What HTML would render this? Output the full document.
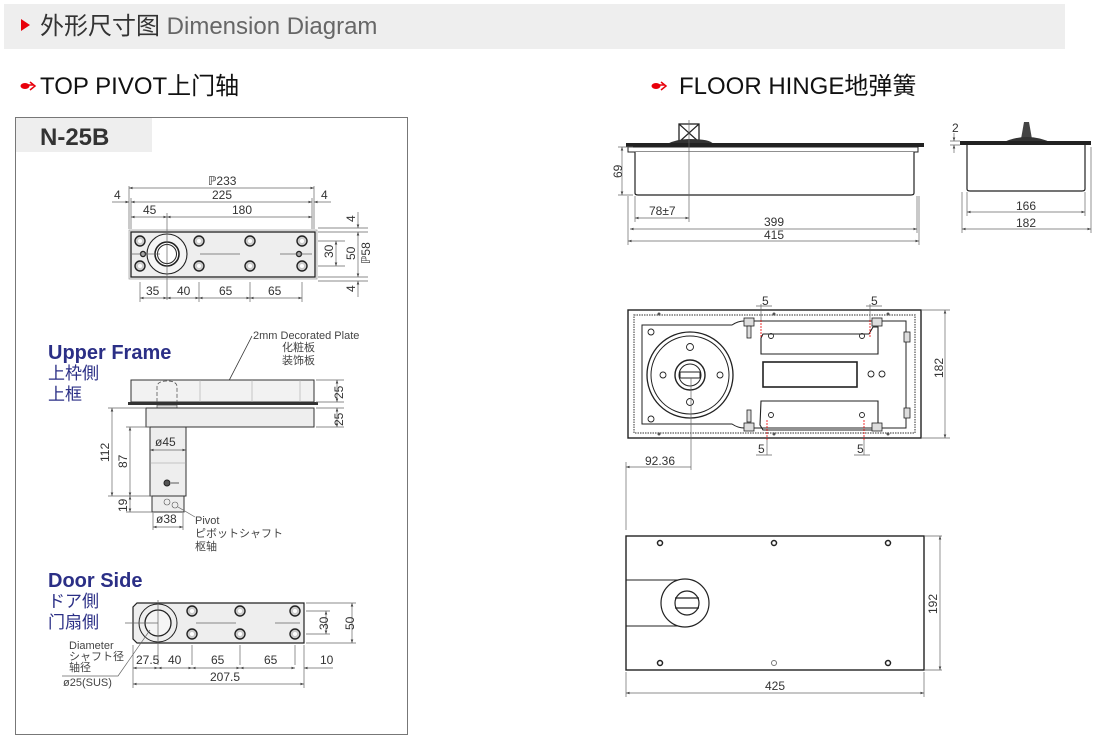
<!DOCTYPE html>
<html><head><meta charset="utf-8"><style>
html,body{margin:0;padding:0;background:#fff;}
svg{display:block;font-family:"Liberation Sans","Noto Sans CJK SC",sans-serif;}
.d{stroke:#666;stroke-width:0.7;fill:none}
.k{stroke:#222;stroke-width:1.2;fill:none}
.t{font-size:12px;fill:#333}
.s{font-size:11px;fill:#444}
</style></head><body>
<svg width="1098" height="744" viewBox="0 0 1098 744" xmlns="http://www.w3.org/2000/svg">
<defs>
<marker id="a" viewBox="0 0 6 6" refX="6" refY="3" markerWidth="5" markerHeight="5" orient="auto-start-reverse"><path d="M0,0.8L6,3L0,5.2z" fill="#444"/></marker>
</defs>
<!-- header -->
<rect x="4" y="4" width="1061" height="45" fill="#eeeeee"/>
<path d="M21,19L30,25L21,31z" fill="#e8000b"/>
<text x="40" y="34" font-size="24" fill="#333">外形尺寸图 <tspan fill="#666">Dimension Diagram</tspan></text>
<!-- section titles -->
<g fill="#e8000b"><ellipse cx="25" cy="86" rx="4.5" ry="3"/><path d="M28,85h6M30,82l5,4l-5,4" stroke="#e8000b" stroke-width="1.5" fill="none"/></g>
<text x="40" y="94" font-size="24" fill="#111">TOP PIVOT上门轴</text>
<g fill="#e8000b"><ellipse cx="656" cy="86" rx="4.5" ry="3"/><path d="M659,85h6M661,82l5,4l-5,4" stroke="#e8000b" stroke-width="1.5" fill="none"/></g>
<text x="679" y="94" font-size="24" fill="#111">FLOOR HINGE地弹簧</text>

<!-- N-25B box -->
<rect x="15.5" y="117.5" width="392" height="617" fill="none" stroke="#777" stroke-width="1"/>
<rect x="16" y="118" width="136" height="34" fill="#eeeeee"/>
<text x="40" y="145" font-size="24" font-weight="bold" fill="#333">N-25B</text>

<!-- top pivot plan -->
<rect x="129" y="230" width="188" height="49" fill="#f2f2f2" stroke="#999" stroke-width="0.7"/>
<rect x="131" y="232" width="184" height="45" fill="#eee" stroke="#222" stroke-width="1.3"/>
<circle cx="167" cy="254" r="20" fill="#f5f5f5" stroke="#222" stroke-width="1.1"/>
<circle cx="167" cy="254" r="12" fill="#fff" stroke="#222" stroke-width="1.6"/>
<circle cx="167" cy="254" r="9.5" fill="none" stroke="#222" stroke-width="1"/>
<g fill="#ccc" stroke="#222" stroke-width="1.4">
<circle cx="140" cy="241" r="5"/><circle cx="140" cy="266" r="5"/>
<circle cx="199" cy="241" r="5"/><circle cx="199" cy="266" r="5"/>
<circle cx="250" cy="241" r="5"/><circle cx="250" cy="266" r="5"/>
<circle cx="302" cy="241" r="5"/><circle cx="302" cy="266" r="5"/>
<circle cx="143" cy="254" r="2.5"/><circle cx="299" cy="254" r="2.5"/>
</g>
<g fill="#fff"><circle cx="140" cy="241" r="2"/><circle cx="140" cy="266" r="2"/><circle cx="199" cy="241" r="2"/><circle cx="199" cy="266" r="2"/><circle cx="250" cy="241" r="2"/><circle cx="250" cy="266" r="2"/><circle cx="302" cy="241" r="2"/><circle cx="302" cy="266" r="2"/></g>
<g class="d">
<path d="M129,186V229M314,186V229M131,198V229M312,198V229M167,213V300M140,282V302M199,282V302M250,282V302M302,282V302"/>
<path d="M129,188H314" marker-start="url(#a)" marker-end="url(#a)"/>
<path d="M131,202H312" marker-start="url(#a)" marker-end="url(#a)"/>
<path d="M112,202H129" marker-end="url(#a)"/><path d="M331,202H314" marker-end="url(#a)"/>
<path d="M131,217H167" marker-start="url(#a)" marker-end="url(#a)"/>
<path d="M167,217H312" marker-start="url(#a)" marker-end="url(#a)"/>
<path d="M140,298H167" marker-start="url(#a)" marker-end="url(#a)"/>
<path d="M167,298H199" marker-start="url(#a)" marker-end="url(#a)"/>
<path d="M199,298H250" marker-start="url(#a)" marker-end="url(#a)"/>
<path d="M250,298H302" marker-start="url(#a)" marker-end="url(#a)"/>
<path d="M318,241H345M318,266H345M318,232H368M318,277H368M318,228H368M318,281H368"/>
<path d="M336,241V266" marker-start="url(#a)" marker-end="url(#a)"/>
<path d="M358,232V277" marker-start="url(#a)" marker-end="url(#a)"/>
<path d="M358,212V228" marker-end="url(#a)"/><path d="M358,297V281" marker-end="url(#a)"/>
<path d="M132,254H160M200,254H240M280,254H312"/>
</g>
<g class="t" font-size="11">
<text x="208" y="185">ℙ233</text><text x="212" y="199">225</text>
<text x="114" y="199">4</text><text x="321" y="199">4</text>
<text x="143" y="214">45</text><text x="232" y="214">180</text>
<text x="146" y="295">35</text><text x="177" y="295">40</text><text x="219" y="295">65</text><text x="268" y="295">65</text>
<text transform="translate(333,258) rotate(-90)">30</text>
<text transform="translate(355,260) rotate(-90)">50</text>
<text transform="translate(370,264) rotate(-90)">ℙ58</text>
<text transform="translate(355,222) rotate(-90)">4</text>
<text transform="translate(355,292) rotate(-90)">4</text>
</g>

<!-- Upper frame -->
<text x="48" y="359" font-size="20" font-weight="bold" fill="#2b2f86">Upper Frame</text>
<text x="48" y="379" font-size="17" fill="#2b2f86">上枠側</text>
<text x="48" y="400" font-size="17" fill="#2b2f86">上框</text>
<text x="253" y="339" class="s">2mm Decorated Plate</text>
<text x="282" y="351" class="s">化粧板</text>
<text x="282" y="364" class="s">装饰板</text>
<path d="M252,336L219,400" stroke="#333" stroke-width="0.8" fill="none" marker-end="url(#a)"/>
<rect x="131" y="380" width="183" height="22" fill="#f2f2f2" stroke="#333" stroke-width="1"/>
<path d="M200,380V402M252,380V402M300,380V402" stroke="#aaa" stroke-width="0.6"/>
<path d="M157,402V387q0,-6 10,-6q10,0 10,6V402" stroke="#555" stroke-width="0.8" stroke-dasharray="4,2" fill="none"/>
<rect x="128" y="402" width="190" height="3" fill="#333"/>
<rect x="157" y="405" width="20" height="3" fill="#ddd" stroke="#333" stroke-width="0.6"/>
<rect x="146" y="408" width="168" height="19" fill="#eee" stroke="#333" stroke-width="1"/>
<rect x="150" y="427" width="36" height="69" fill="#eee" stroke="#333" stroke-width="1"/>
<path d="M150,463H186" stroke="#999" stroke-width="0.6"/>
<circle cx="167" cy="483" r="3" fill="#555" stroke="#222"/>
<path d="M171,483H179" stroke="#333" stroke-width="0.8"/>
<rect x="152" y="496" width="32" height="16" fill="#eee" stroke="#333" stroke-width="1"/>
<circle cx="167" cy="502" r="3" fill="none" stroke="#555" stroke-width="0.6"/>
<circle cx="175" cy="505" r="3" fill="none" stroke="#555" stroke-width="0.6"/>
<g class="d">
<path d="M316,380H344M316,402H344M316,408H344M316,427H344"/>
<path d="M337,380V402" marker-start="url(#a)" marker-end="url(#a)"/>
<path d="M337,408V427" marker-start="url(#a)" marker-end="url(#a)"/>
<path d="M108,408H146M126,427H150M108,496H152M126,512H152"/>
<path d="M112,408V496" marker-start="url(#a)" marker-end="url(#a)"/>
<path d="M130,427V496" marker-start="url(#a)" marker-end="url(#a)"/>
<path d="M130,496V512" marker-start="url(#a)" marker-end="url(#a)"/>
<path d="M150,450H186" marker-start="url(#a)" marker-end="url(#a)"/>
<path d="M153,513V530M183,513V530"/>
<path d="M153,527H183" marker-start="url(#a)" marker-end="url(#a)"/>
<path d="M178,507L195,517"/>
</g>
<g class="t" font-size="11">
<text x="155" y="446">ø45</text><text x="156" y="523">ø38</text>
<text transform="translate(343,399) rotate(-90)">25</text>
<text transform="translate(343,426) rotate(-90)">25</text>
<text transform="translate(109,462) rotate(-90)">112</text>
<text transform="translate(127,468) rotate(-90)">87</text>
<text transform="translate(127,512) rotate(-90)">19</text>
</g>
<text x="195" y="524" class="s">Pivot</text>
<text x="195" y="537" class="s">ピボットシャフト</text>
<text x="195" y="550" class="s">枢轴</text>

<!-- Door side -->
<text x="48" y="587" font-size="20" font-weight="bold" fill="#2b2f86">Door Side</text>
<text x="48" y="607" font-size="17" fill="#2b2f86">ドア側</text>
<text x="48" y="628" font-size="17" fill="#2b2f86">门扇側</text>
<path d="M137,603H304V643H137L133,639V607z" fill="#eee" stroke="#222" stroke-width="1.2"/>
<circle cx="158" cy="623" r="19" fill="none" stroke="#222" stroke-width="1"/>
<circle cx="158" cy="623" r="13" fill="#f5f5f5" stroke="#222" stroke-width="1.3"/>
<g fill="#ccc" stroke="#222" stroke-width="1.4">
<circle cx="192" cy="611" r="5"/><circle cx="192" cy="634" r="5"/>
<circle cx="240" cy="611" r="5"/><circle cx="240" cy="634" r="5"/>
<circle cx="295" cy="611" r="5"/><circle cx="295" cy="634" r="5"/>
</g>
<g fill="#fff"><circle cx="192" cy="611" r="2"/><circle cx="192" cy="634" r="2"/><circle cx="240" cy="611" r="2"/><circle cx="240" cy="634" r="2"/><circle cx="295" cy="611" r="2"/><circle cx="295" cy="634" r="2"/></g>
<g class="d">
<path d="M125,623H158M196,623H236M275,623H300M158,600V665M192,645V665M240,645V665M295,645V665M133,645V688M304,645V688"/>
<path d="M306,611H330M306,634H330M306,603H356M306,643H356"/>
<path d="M326,611V634" marker-start="url(#a)" marker-end="url(#a)"/>
<path d="M352,603V643" marker-start="url(#a)" marker-end="url(#a)"/>
<path d="M133,668H158" marker-start="url(#a)" marker-end="url(#a)"/>
<path d="M158,668H192" marker-start="url(#a)" marker-end="url(#a)"/>
<path d="M192,668H240" marker-start="url(#a)" marker-end="url(#a)"/>
<path d="M240,668H295" marker-start="url(#a)" marker-end="url(#a)"/>
<path d="M333,668H304" marker-end="url(#a)"/>
<path d="M133,684H304" marker-start="url(#a)" marker-end="url(#a)"/>
<path d="M62,676H118L150,630"/>
</g>
<g class="t" font-size="11">
<text x="136" y="664">27.5</text><text x="168" y="664">40</text><text x="211" y="664">65</text><text x="264" y="664">65</text><text x="320" y="664">10</text>
<text x="210" y="681">207.5</text>
<text transform="translate(328,630) rotate(-90)">30</text>
<text transform="translate(354,630) rotate(-90)">50</text>
</g>
<text x="69" y="649" class="s">Diameter</text>
<text x="69" y="660" class="s">シャフト径</text>
<text x="69" y="671" class="s">轴径</text>
<text x="63" y="686" class="s">ø25(SUS)</text>

<!-- Floor hinge side view -->
<rect x="679" y="124" width="20" height="18" fill="#fff" stroke="#222" stroke-width="1.3"/>
<path d="M679,124L699,142M699,124L679,142" stroke="#222" stroke-width="1.2"/>
<path d="M667,144q10,-5 22,-5q22,0 24,5z" fill="#333"/>
<rect x="626" y="143" width="298" height="4" fill="#222"/>
<rect x="628" y="147" width="290" height="5" fill="#fff" stroke="#222" stroke-width="1"/>
<path d="M635,152V193q0,2 3,2H911q3,0 3,-2V152" fill="#fff" stroke="#222" stroke-width="1.2"/>
<g class="d">
<path d="M689,120V222M635,196V222M628,196V245M917,196V233M919,196V245M618,147H633M618,195H633"/>
<path d="M622,147V195" marker-start="url(#a)" marker-end="url(#a)"/>
<path d="M635,218H689" marker-start="url(#a)" marker-end="url(#a)"/>
<path d="M630,229H917" marker-start="url(#a)" marker-end="url(#a)"/>
<path d="M628,241H919" marker-start="url(#a)" marker-end="url(#a)"/>
</g>
<g class="t" font-size="11">
<text transform="translate(622,178) rotate(-90)">69</text>
<text x="649" y="215">78±7</text><text x="764" y="226">399</text><text x="764" y="239">415</text>
</g>
<!-- end view -->
<path d="M1021,139L1024,122H1029L1032,139z" fill="#444"/>
<path d="M1002,143q12,-6 25,-6q13,0 25,6z" fill="#333"/>
<rect x="960" y="141" width="131" height="4" fill="#222"/>
<path d="M967,145V189q0,2 3,2H1082q3,0 3,-2V145" fill="#fff" stroke="#222" stroke-width="1.2"/>
<g class="d">
<path d="M950,141H960M950,145H960M967,192V216M1085,192V216M962,192V233M1091,147V233"/>
<path d="M954,133V141" marker-end="url(#a)"/><path d="M954,153V145" marker-end="url(#a)"/>
<path d="M967,212H1085" marker-start="url(#a)" marker-end="url(#a)"/>
<path d="M962,229H1091" marker-start="url(#a)" marker-end="url(#a)"/>
</g>
<g class="t" font-size="11"><text x="952" y="132">2</text><text x="1016" y="210">166</text><text x="1016" y="227">182</text></g>

<!-- Plan view -->
<rect x="628" y="310" width="293" height="128" fill="#fff" stroke="#222" stroke-width="1.4"/>
<rect x="634" y="315" width="281" height="118" fill="none" stroke="#777" stroke-width="1.5" stroke-dasharray="1.5,1"/>
<path d="M642,325H732q6,-4 12,-4H906V428H744q-6,0 -12,-4H642z" fill="none" stroke="#222" stroke-width="1"/>
<circle cx="690" cy="375" r="43" fill="#fff" stroke="#222" stroke-width="1.3"/>
<circle cx="690" cy="375" r="39" fill="none" stroke="#222" stroke-width="1"/>
<circle cx="690" cy="375" r="15" fill="none" stroke="#222" stroke-width="1.4"/>
<circle cx="690" cy="375" r="11" fill="none" stroke="#222" stroke-width="1"/>
<rect x="680" y="372" width="20" height="6" fill="#fff" stroke="#222" stroke-width="1"/>
<g fill="none" stroke="#222" stroke-width="0.9"><circle cx="690" cy="347" r="3.5"/><circle cx="663" cy="375" r="3"/><circle cx="720" cy="375" r="3"/><circle cx="690" cy="402" r="3.5"/></g>
<path d="M763,334H869L873,327H878V354H761V338z M761,401H878V430H763L760,425z" fill="none" stroke="#222" stroke-width="1.1"/>
<rect x="763" y="362" width="94" height="25" fill="none" stroke="#222" stroke-width="1.6"/>
<g fill="none" stroke="#222" stroke-width="0.9"><circle cx="771" cy="336" r="2.5"/><circle cx="862" cy="336" r="2.5"/><circle cx="771" cy="415" r="2.5"/><circle cx="862" cy="415" r="2.5"/><circle cx="871" cy="374" r="3"/><circle cx="882" cy="374" r="3"/><circle cx="651" cy="332" r="3"/><circle cx="651" cy="419" r="3"/></g>
<g fill="#ddd" stroke="#222" stroke-width="0.8">
<rect x="744" y="318" width="10" height="8"/><rect x="872" y="318" width="10" height="8"/><rect x="744" y="423" width="10" height="8"/><rect x="872" y="423" width="10" height="8"/>
<rect x="904" y="332" width="6" height="10"/><rect x="904" y="408" width="6" height="10"/>
<rect x="747" y="326" width="4" height="12"/><rect x="747" y="410" width="4" height="12"/>
</g>
<g fill="#555"><circle cx="659" cy="314" r="1.5"/><circle cx="774" cy="314" r="1.5"/><circle cx="888" cy="314" r="1.5"/><circle cx="659" cy="434" r="1.5"/><circle cx="774" cy="434" r="1.5"/><circle cx="888" cy="434" r="1.5"/></g>
<g stroke="#e00" stroke-width="0.8" stroke-dasharray="2,1"><path d="M761,320V338M870,320V338M767,420V440M864,420V440"/></g>
<g class="d">
<path d="M761,304V320M756,306H772M870,304V320M866,306H882M767,440V455M756,455H772M864,440V455M854,455H870"/>
<path d="M922,310H950M922,438H950"/>
<path d="M945,310V438" marker-start="url(#a)" marker-end="url(#a)"/>
<path d="M691,378V470M626,462V530"/>
<path d="M626,467H691" marker-start="url(#a)"/>
</g>
<g class="t" font-size="11">
<text x="762" y="305">5</text><text x="871" y="305">5</text><text x="758" y="453">5</text><text x="857" y="453">5</text>
<text x="645" y="465">92.36</text>
<text transform="translate(943,378) rotate(-90)">182</text>
</g>

<!-- bottom cover -->
<rect x="626" y="536" width="298" height="134" fill="#fff" stroke="#222" stroke-width="1.4"/>
<path d="M626,580H684M626,626H684" stroke="#222" stroke-width="1.1"/>
<circle cx="685" cy="603" r="24" fill="#fff" stroke="#222" stroke-width="1.2"/>
<circle cx="687" cy="603" r="12" fill="#fff" stroke="#222" stroke-width="1.2"/>
<path d="M675,598H699M675,608H699" stroke="#222" stroke-width="1.2"/>
<g fill="#fff" stroke="#222" stroke-width="1.5"><circle cx="660" cy="543" r="2.5"/><circle cx="774" cy="543" r="2.5"/><circle cx="888" cy="543" r="2.5"/><circle cx="660" cy="663" r="2.5"/><circle cx="888" cy="663" r="2.5"/></g>
<circle cx="774" cy="663" r="2.5" fill="#fff" stroke="#777" stroke-width="1"/>
<g class="d">
<path d="M925,536H942M925,670H942M626,672V697M924,672V697"/>
<path d="M940,536V670" marker-start="url(#a)" marker-end="url(#a)"/>
<path d="M626,693H924" marker-start="url(#a)" marker-end="url(#a)"/>
</g>
<g class="t" font-size="11"><text transform="translate(937,614) rotate(-90)">192</text><text x="765" y="690">425</text></g>
</svg>
</body></html>
